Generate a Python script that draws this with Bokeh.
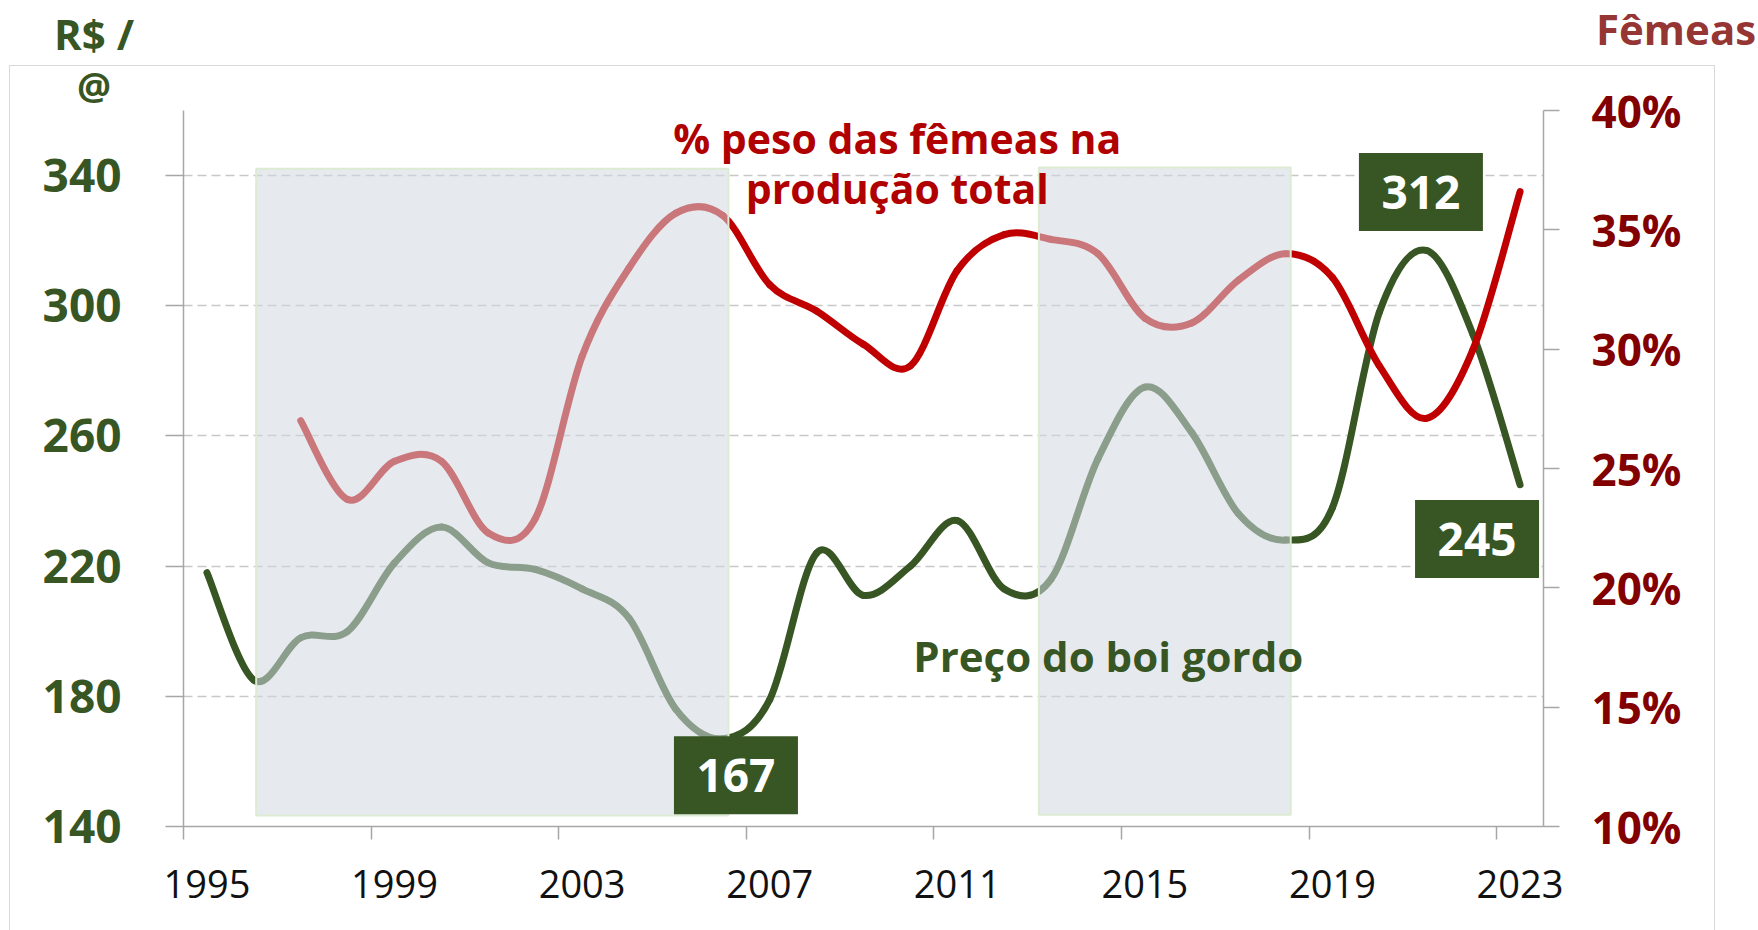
import numpy as np
from bokeh.plotting import figure
from bokeh.models import (Range1d, LinearAxis, FixedTicker, PrintfTickFormatter,
                          ColumnDataSource, Label, Div)
from bokeh.layouts import column
from bokeh.embed import file_html
from bokeh.resources import INLINE
from bokeh.core.properties import value

# ---------------- data ----------------
years = list(range(1995, 2024))
price = [218, 185, 198, 200, 221, 232, 221, 219, 213, 204, 176, 167, 179, 224, 211,
         220, 234, 213, 216, 253, 275, 261, 236, 228, 238, 298, 317, 291, 245]

fem_years = list(range(1997, 2024))
fem_share = [27.0, 23.7, 25.3, 25.3, 22.3, 22.9, 29.7, 33.4, 35.7, 35.6, 32.7, 31.6, 30.2,
             29.3, 33.3, 34.8, 34.6, 34.0, 31.3, 31.1, 32.9, 34.0, 33.0, 29.3, 27.1, 30.0, 36.6]

tick_years = [1995, 1999, 2003, 2007, 2011, 2015, 2019, 2023]
left_ticks = [140, 180, 220, 260, 300, 340]
grid_ticks = [180, 220, 260, 300, 340]
right_ticks = [10, 15, 20, 25, 30, 35, 40]

# shaded periods (years) and value labels
shade_start = [1996.05, 2012.74]
shade_end = [2006.12, 2018.11]
label_text = ["167", "312", "245"]
label_year = [2006.28, 2020.886, 2022.083]
label_val = [155.73, 334.99, 228.31]

GREEN = "#375623"
RED = "#c00000"
AXIS = "#a6a6a6"
FONT = "Open Sans"


def bezier_source(xs, ys):
    xs = np.asarray(xs, float)
    ys = np.asarray(ys, float)
    n = len(xs)
    xp = np.concatenate([[xs[0]], xs, [xs[-1]]])
    yp = np.concatenate([[ys[0]], ys, [ys[-1]]])
    x0, y0, x1, y1, cx0, cy0, cx1, cy1 = ([] for _ in range(8))
    for i in range(n - 1):
        j = i + 1
        x0.append(xp[j]); y0.append(yp[j])
        x1.append(xp[j + 1]); y1.append(yp[j + 1])
        cx0.append(xp[j] + (xp[j + 1] - xp[j - 1]) / 6.0)
        cy0.append(yp[j] + (yp[j + 1] - yp[j - 1]) / 6.0)
        cx1.append(xp[j + 1] - (xp[j + 2] - xp[j]) / 6.0)
        cy1.append(yp[j + 1] - (yp[j + 2] - yp[j]) / 6.0)
    return ColumnDataSource(dict(x0=x0, y0=y0, x1=x1, y1=y1,
                                 cx0=cx0, cy0=cy0, cx1=cx1, cy1=cy1))


p = figure(width=1758, height=930, output_backend="svg", toolbar_location=None,
           x_range=Range1d(1994.5, 2023.5), y_range=Range1d(140, 360),
           min_border_left=183, min_border_right=215, min_border_top=110,
           min_border_bottom=104)
p.extra_y_ranges = {"right": Range1d(10, 40)}
p.outline_line_color = None
p.background_fill_color = "white"
p.border_fill_color = "white"

# grid
p.xgrid.grid_line_color = None
p.ygrid.ticker = FixedTicker(ticks=grid_ticks)
p.ygrid.grid_line_color = "#c8c8c8"
p.ygrid.grid_line_width = 1.5
p.ygrid.grid_line_dash = "9 5"

# left axis
ya = p.yaxis[0]
ya.ticker = FixedTicker(ticks=left_ticks)
ya.axis_line_color = AXIS
ya.axis_line_width = 1.5
ya.major_tick_line_color = AXIS
ya.major_tick_line_width = 1.5
ya.major_tick_out = 18
ya.major_tick_in = 0
ya.minor_tick_line_color = None
ya.major_label_text_font = FONT
ya.major_label_text_font_size = "46px"
ya.major_label_text_font_style = "bold"
ya.major_label_text_color = GREEN
ya.major_label_standoff = 44

# bottom axis
xa = p.xaxis[0]
xa.ticker = FixedTicker(ticks=tick_years, minor_ticks=[t - 0.5 for t in tick_years])
xa.axis_line_color = AXIS
xa.axis_line_width = 1.5
xa.major_tick_line_color = None
xa.major_tick_out = 0
xa.major_tick_in = 0
xa.minor_tick_line_color = AXIS
xa.minor_tick_line_width = 1.5
xa.minor_tick_out = 13
xa.minor_tick_in = 0
xa.major_label_text_font = FONT
xa.major_label_text_font_size = "38px"
xa.major_label_text_color = "#111111"
xa.major_label_standoff = 30

# right axis
ra = LinearAxis(y_range_name="right", ticker=FixedTicker(ticks=right_ticks),
                formatter=PrintfTickFormatter(format="%d%%"))
ra.axis_line_color = AXIS
ra.axis_line_width = 1.5
ra.major_tick_line_color = AXIS
ra.major_tick_line_width = 1.5
ra.major_tick_out = 16
ra.major_tick_in = 0
ra.minor_tick_line_color = None
ra.major_label_text_font = FONT
ra.major_label_text_font_size = "44px"
ra.major_label_text_font_style = "bold"
ra.major_label_text_color = "#820000"
ra.major_label_standoff = 32
p.add_layout(ra, "right")

# lines (Excel-like smoothed)
p.bezier(x0="x0", y0="y0", x1="x1", y1="y1", cx0="cx0", cy0="cy0", cx1="cx1", cy1="cy1",
         source=bezier_source(years, price), line_color=GREEN, line_width=7,
         line_cap="round", line_join="round")
p.bezier(x0="x0", y0="y0", x1="x1", y1="y1", cx0="cx0", cy0="cy0", cx1="cx1", cy1="cy1",
         source=bezier_source(fem_years, fem_share), line_color=RED, line_width=7,
         line_cap="round", line_join="round", y_range_name="right")

# shaded periods over the lines
p.quad(left=shade_start, right=shade_end, bottom=[143.4, 143.6], top=[342.1, 342.5],
       fill_color="#d2d9e2", fill_alpha=0.55, line_color="#dcebd2", line_width=2)

# value boxes
p.rect(x=label_year, y=label_val, width=124, height=78, width_units="screen",
       height_units="screen", fill_color=GREEN, line_color=None)
p.text(x=label_year, y=[v - 0.2 for v in label_val], text=label_text,
       text_font=value(FONT), text_font_style="bold", text_font_size="46px",
       text_color="white", text_align="center", text_baseline="alphabetic")


def lab(x, y, t, color, size):
    p.add_layout(Label(x=x, y=y, text=t, text_font=FONT, text_font_size=size,
                       text_font_style="bold", text_color=color, text_align="center",
                       text_baseline="alphabetic"))


lab(2009.72, 351.6, "% peso das fêmeas na", "#b00000", "41px")
lab(2009.72, 336.1, "produção total", "#b00000", "41px")
lab(2014.22, 192.6, "Preço do boi gordo", GREEN, "42px")

# texts and chart-area border outside the plot frame (HTML overlay)
F = "font-family:'Open Sans';font-weight:bold;line-height:1;white-space:nowrap;"
overlay_html = (
    '<div style="position:relative;width:1758px;height:930px;overflow:hidden;">'
    '<div style="position:absolute;left:9px;top:65px;width:1706px;height:900px;'
    'border:1.5px solid #d9d9d9;"></div>'
    f'<div style="position:absolute;left:34px;top:13px;width:120px;text-align:center;{F}'
    f'font-size:42px;color:{GREEN};">R$ /</div>'
    f'<div style="position:absolute;left:34px;top:66px;width:120px;text-align:center;{F}'
    f'font-size:38px;color:{GREEN};">@</div>'
    f'<div style="position:absolute;left:1596px;top:8px;{F}'
    'font-size:42px;color:#963634;">Fêmeas</div>'
    '</div>'
)
overlay = Div(text=overlay_html, width=1758, height=930, margin=0,
              styles={"position": "absolute", "left": "0px", "top": "0px",
                      "z-index": "10", "pointer-events": "none"})

layout = column(p, overlay, margin=0, spacing=0)
open("out.html", "w").write(file_html(layout, INLINE))
